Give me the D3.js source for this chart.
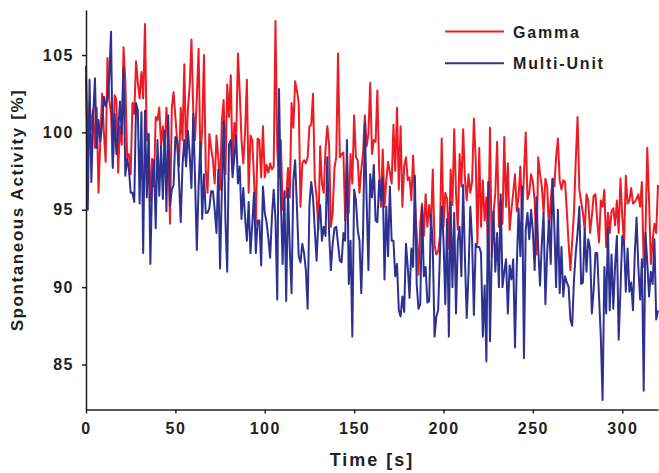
<!DOCTYPE html>
<html>
<head>
<meta charset="utf-8">
<script src="https://cdn.jsdelivr.net/npm/d3@7"></script>
<style>
  html, body { margin: 0; padding: 0; background: #fff; }
  svg { display: block; }
  text { font-family: "Liberation Sans", Arial, sans-serif; font-weight: bold; fill: #231f20; }
</style>
</head>
<body>
<svg id="chart" width="659" height="473"></svg>
<script>
// Recording time axis: one sample per second
const timeStart = 0;
const timeEnd = 320;

// Spontaneous activity, percent of baseline, one value per second
const gamma = [
  103.5, 98.6, 101.9, 100.2, 101.5, 99.0, 101.6, 96.1, 99.5, 102.5,
  100.0, 98.1, 104.8, 102.1, 101.2, 97.8, 102.4, 102.1, 97.4, 100.4,
  99.2, 105.5, 103.3, 98.4, 98.6, 97.3, 101.9, 101.2, 104.6, 103.2,
  102.2, 103.9, 102.2, 107.0, 99.5, 99.9, 95.6, 98.3, 96.5, 101.0,
  100.8, 101.6, 99.1, 100.4, 98.8, 101.6, 99.2, 94.1, 101.6, 102.6,
  101.0, 99.5, 97.8, 101.6, 99.5, 104.4, 98.4, 101.5, 103.0, 106.0,
  101.4, 99.5, 102.3, 105.4, 98.2, 100.2, 105.0, 97.6, 96.1, 99.9,
  99.0, 98.2, 96.7, 99.8, 98.4, 96.3, 100.7, 102.1, 97.3, 103.1,
  101.0, 103.7, 97.5, 100.6, 99.4, 105.1, 102.6, 99.5, 98.0, 100.0,
  103.4, 96.1, 99.8, 99.5, 97.0, 94.1, 99.6, 99.5, 97.1, 100.4,
  97.1, 97.9, 97.4, 98.0, 97.6, 97.8, 107.2, 98.9, 97.1, 99.5,
  95.0, 95.8, 95.8, 97.7, 95.8, 101.9, 100.3, 103.3, 102.7, 101.9,
  95.2, 98.0, 98.2, 98.0, 98.4, 100.4, 100.5, 102.5, 96.9, 95.8,
  93.7, 99.1, 96.7, 96.1, 98.9, 100.4, 99.2, 93.9, 94.8, 97.7,
  98.4, 105.1, 98.4, 98.6, 98.7, 94.3, 98.2, 94.8, 98.6, 96.7,
  101.1, 98.4, 98.2, 96.1, 97.6, 98.7, 101.1, 99.1, 99.9, 103.2,
  98.6, 99.5, 99.4, 102.7, 97.6, 95.2, 98.9, 95.2, 96.9, 98.1,
  97.4, 96.7, 100.5, 97.5, 101.6, 96.3, 100.4, 95.2, 97.8, 98.4,
  96.9, 97.1, 95.6, 98.5, 95.6, 93.5, 90.8, 94.1, 95.4, 93.3,
  96.0, 93.9, 95.3, 93.9, 97.6, 92.7, 92.1, 92.3, 93.3, 99.6,
  93.9, 96.1, 95.7, 92.5, 97.6, 95.3, 100.2, 96.1, 93.7, 98.6,
  96.5, 100.2, 97.0, 95.6, 97.3, 96.1, 96.8, 100.9, 98.3, 92.8,
  99.0, 93.9, 96.9, 94.3, 95.8, 92.4, 100.3, 92.0, 94.8, 96.1,
  99.4, 93.9, 95.6, 94.1, 99.7, 95.2, 98.0, 93.7, 95.0, 96.1,
  97.3, 94.9, 95.9, 97.8, 94.4, 97.3, 100.0, 95.7, 96.1, 97.3,
  96.8, 95.6, 92.1, 98.4, 97.3, 96.5, 94.8, 97.0, 96.5, 93.7,
  95.6, 97.0, 96.5, 98.4, 99.6, 96.9, 96.3, 96.9, 96.8, 94.9,
  92.8, 91.1, 93.0, 94.9, 98.2, 101.0, 96.3, 95.5, 94.8, 93.7,
  96.0, 95.6, 93.5, 94.6, 95.9, 96.0, 94.3, 92.9, 95.6, 95.2,
  96.3, 92.6, 94.8, 93.5, 94.9, 95.1, 94.0, 95.6, 93.5, 97.0,
  94.6, 92.8, 97.2, 95.4, 95.6, 96.4, 95.4, 95.5, 95.7, 96.0,
  95.2, 96.8, 91.3, 93.5, 99.0, 95.6, 91.5, 93.0, 94.1, 93.5,
  96.6
];

const multiUnit = [
  104.3, 95.0, 103.4, 96.8, 101.0, 103.5, 99.0, 100.8, 99.4, 100.5,
  102.3, 101.7, 102.2, 103.5, 106.5, 97.7, 101.2, 98.6, 100.0, 102.0,
  99.9, 104.2, 97.2, 98.3, 97.6, 96.1, 96.1, 95.5, 101.9, 101.4,
  95.4, 101.3, 92.2, 101.4, 95.8, 99.9, 91.5, 96.7, 98.2, 93.8,
  99.5, 95.9, 99.1, 95.7, 100.1, 94.9, 101.1, 95.3, 96.3, 96.6,
  99.7, 99.5, 97.0, 94.2, 97.9, 99.5, 97.8, 100.1, 98.6, 96.4,
  101.2, 97.0, 92.4, 96.5, 99.4, 94.4, 97.3, 94.8, 94.8, 95.1,
  96.2, 96.2, 95.0, 93.5, 97.6, 91.2, 96.3, 100.7, 94.3, 91.0,
  99.2, 99.5, 97.1, 98.4, 99.8, 96.7, 97.8, 94.4, 96.4, 94.5,
  93.0, 95.5, 92.2, 94.0, 96.1, 92.2, 94.3, 94.3, 91.4, 96.5,
  94.8, 94.2, 93.2, 91.9, 94.5, 96.3, 94.4, 89.2, 102.8, 95.7,
  91.5, 96.2, 89.1, 96.4, 92.5, 89.6, 96.9, 98.2, 95.2, 92.0,
  91.6, 92.8, 92.2, 91.1, 88.6, 95.3, 96.8, 95.8, 93.7, 91.7,
  94.3, 95.3, 93.0, 93.9, 93.3, 98.4, 93.5, 91.1, 92.8, 93.8,
  93.9, 92.8, 91.7, 91.6, 93.5, 93.0, 99.5, 90.2, 93.0, 86.8,
  96.3, 95.6, 93.7, 93.0, 89.6, 93.5, 100.6, 95.6, 91.1, 97.3,
  95.8, 97.9, 94.3, 94.2, 96.9, 95.6, 97.1, 90.5, 95.2, 92.0,
  96.5, 93.0, 93.0, 90.7, 91.5, 88.5, 88.1, 89.4, 88.4, 92.8,
  91.3, 89.3, 92.5, 91.3, 97.2, 90.2, 88.6, 88.9, 95.2, 90.7,
  91.3, 89.0, 89.1, 94.7, 92.6, 86.8, 88.1, 88.5, 92.1, 95.2,
  93.1, 88.9, 94.4, 86.8, 95.5, 90.0, 94.8, 88.3, 93.0, 93.9,
  90.7, 96.6, 91.8, 88.0, 90.9, 95.2, 93.0, 88.2, 92.8, 92.6,
  92.6, 92.2, 86.8, 90.1, 85.2, 96.8, 86.5, 92.1, 94.9, 91.0,
  93.5, 90.0, 96.0, 90.0, 91.0, 91.8, 88.3, 91.4, 90.5, 91.8,
  86.1, 91.4, 95.1, 92.0, 96.5, 85.4, 93.7, 94.8, 93.1, 95.0,
  93.6, 91.1, 95.8, 92.5, 90.1, 92.8, 94.8, 88.9, 92.2, 94.3,
  91.5, 97.0, 94.0, 90.0, 95.0, 89.6, 92.6, 89.4, 90.7, 90.3,
  90.0, 87.9, 87.5, 90.5, 92.2, 93.5, 95.2, 90.2, 90.3, 93.8,
  91.0, 93.1, 92.5, 88.3, 89.8, 92.2, 92.2, 89.4, 86.8, 82.7,
  91.3, 88.3, 93.8, 88.5, 92.1, 88.6, 91.4, 93.3, 86.6, 89.8,
  93.3, 92.9, 89.7, 92.5, 89.7, 90.3, 88.5, 92.1, 94.5, 91.3,
  89.2, 91.8, 83.3, 93.5, 91.6, 89.4, 91.0, 90.2, 93.1, 87.9,
  88.5
];

const xTicks = [0, 50, 100, 150, 200, 250, 300];
const yTicks = [85, 90, 95, 100, 105];
const seriesNames = ["Gamma", "Multi-Unit"];
const seriesColors = ["#ed1c24", "#2e3192"];

const svg = d3.select("#chart");

const x = d3.scaleLinear().domain([timeStart, timeEnd]).range([86, 658]);
const y = d3.scaleLinear().domain([82.09, 107.91]).range([409.5, 10]);

const times = d3.range(timeStart, timeEnd + 1);

// Data lines: gamma underneath, multi-unit on top
const line = d3.line()
  .x((d, i) => x(times[i]))
  .y(d => y(d));

[gamma, multiUnit].forEach((vals, k) => {
  svg.append("path")
    .datum(vals)
    .attr("fill", "none")
    .attr("stroke", seriesColors[k])
    .attr("stroke-width", 2)
    .attr("stroke-linejoin", "round")
    .attr("d", line);
});

// Axes
const xAxis = svg.append("g")
  .attr("transform", `translate(0,${y.range()[0]})`)
  .call(d3.axisBottom(x).tickValues(xTicks).tickSize(4).tickPadding(9).tickSizeOuter(0));
const yAxis = svg.append("g")
  .attr("transform", `translate(${x.range()[0]},0)`)
  .call(d3.axisLeft(y).tickValues(yTicks).tickSize(4).tickPadding(8).tickSizeOuter(0));

[xAxis, yAxis].forEach(g => {
  g.select(".domain").attr("stroke", "#231f20").attr("stroke-width", 1.5);
  g.selectAll(".tick line").attr("stroke", "#231f20").attr("stroke-width", 1.5);
  g.selectAll(".tick text")
    .style("font-family", '"Liberation Sans", Arial, sans-serif')
    .style("font-weight", "bold")
    .style("font-size", "16px")
    .style("letter-spacing", "1.5px")
    .attr("fill", "#231f20");
});

// Axis titles
svg.append("text")
  .attr("x", 372)
  .attr("y", 466)
  .attr("text-anchor", "middle")
  .style("font-size", "18px")
  .style("letter-spacing", "2px")
  .text("Time [s]");

svg.append("text")
  .attr("transform", "translate(23,210) rotate(-90)")
  .attr("text-anchor", "middle")
  .style("font-size", "17px")
  .style("letter-spacing", "1.6px")
  .text("Spontaneous Activity [%]");

// Legend
const legend = svg.append("g");
seriesNames.forEach((name, k) => {
  const ly = 31.5 + k * 31.8;
  legend.append("line")
    .attr("x1", 445).attr("x2", 504)
    .attr("y1", ly).attr("y2", ly)
    .attr("stroke", seriesColors[k])
    .attr("stroke-width", 2);
  legend.append("text")
    .attr("x", 513)
    .attr("y", ly + 6)
    .style("font-size", "16px")
    .style("letter-spacing", "1.8px")
    .text(name);
});
</script>
</body>
</html>
